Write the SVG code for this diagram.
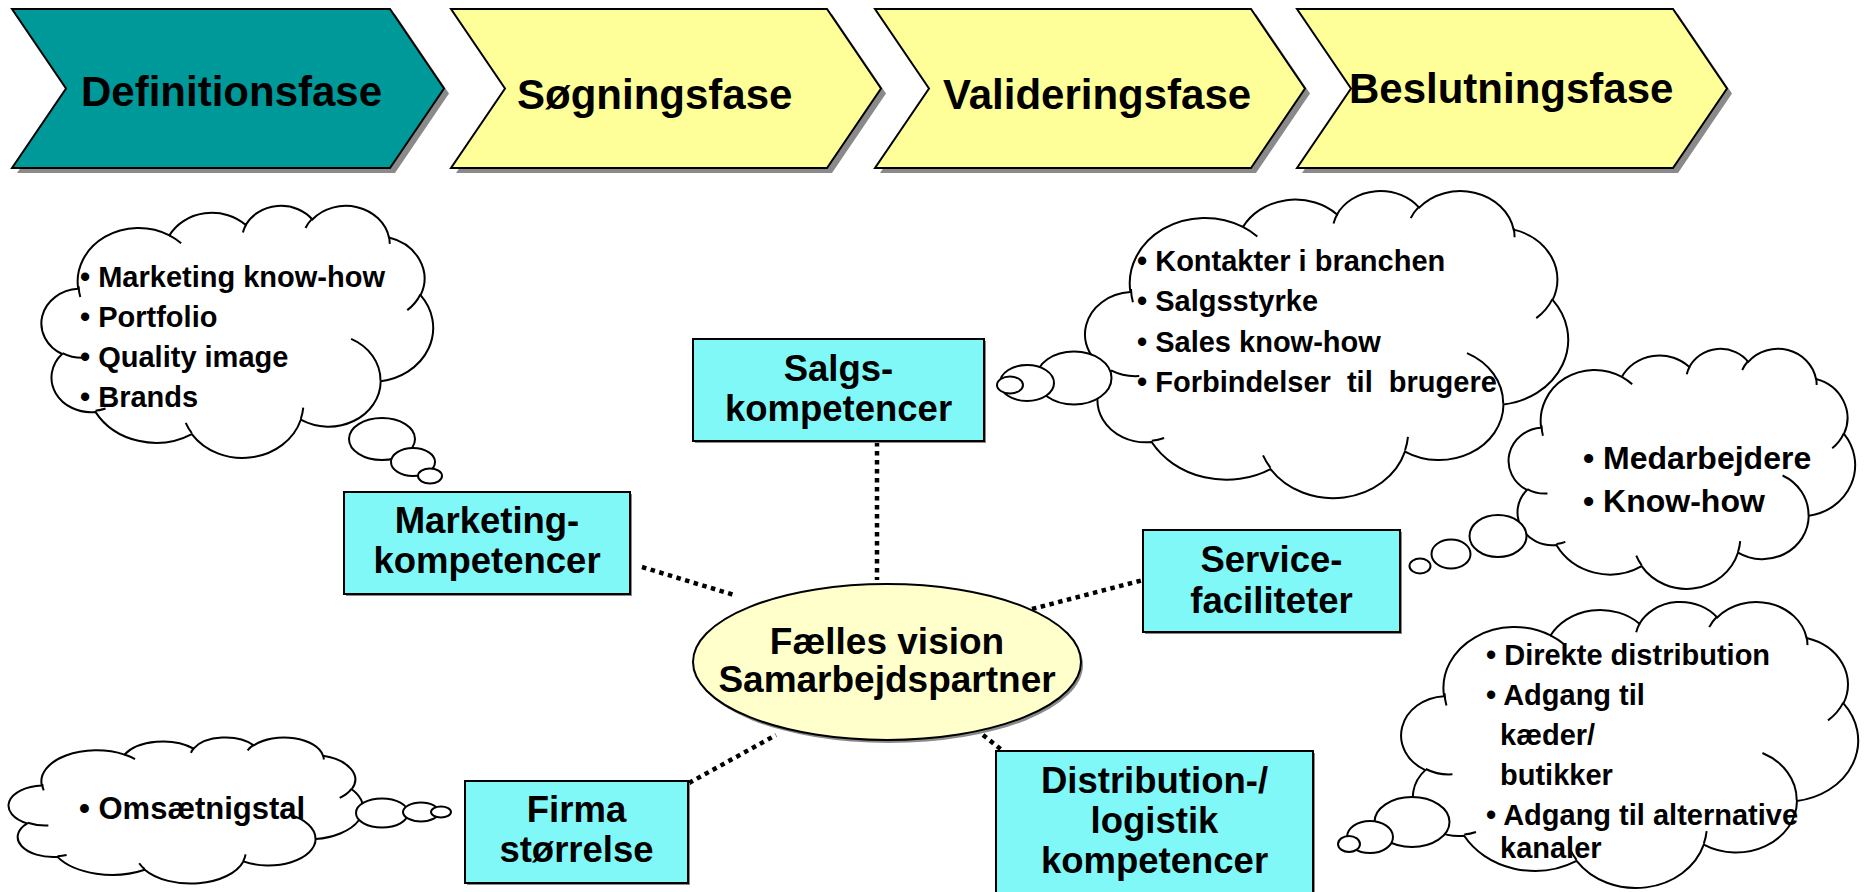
<svg xmlns="http://www.w3.org/2000/svg" xmlns:xlink="http://www.w3.org/1999/xlink" width="1871" height="892" viewBox="0 0 1871 892">
<style>
text { font-family: "Liberation Sans", Arial, sans-serif; font-weight: bold; fill: #000; }
.phase { font-size: 42px; }
.chev { stroke: #000; stroke-width: 2; stroke-linejoin: miter; }
.chevshadow { fill: #8a8a8a; }
.teal { fill: #009999; }
.yel { fill: #FFFF99; }
.box { fill: #80F8F8; stroke: #000; stroke-width: 2; }
.boxshadow { fill: #8a8a8a; }
.btxt { font-size: 36.5px; text-anchor: middle; }
.etxt { font-size: 37px; text-anchor: middle; }
.cloud { fill: #fff; stroke: #000; stroke-width: 2; vector-effect: non-scaling-stroke; }
.carc { fill: none; stroke: #000; stroke-width: 2; vector-effect: non-scaling-stroke; }
.bub { fill: #fff; stroke: #000; stroke-width: 2; }
.ctxt { font-size: 29px; }
.ctxt32 { font-size: 32px; }
.ctxt31 { font-size: 31px; }
.dot { stroke: #000; stroke-width: 4.5; stroke-dasharray: 4.5 4.5; fill: none; }
</style>
<defs>
<path id="cloudShape" class="cloud" d="M39,143.7 A67.53,91.9 0 0 1 140.06,52.02 A53.33,72.67 0 0 1 224.57,34.34 A43.65,59.45 0 0 1 298.34,24.83 A48.57,65.95 0 0 1 383.2,55.78 A53.33,72.73 0 0 1 418.2,154.62 A67.75,92.2 0 0 1 374.05,302.02 A57.85,78.67 0 0 1 285.57,368.13 A67.52,92.15 0 0 1 164.82,392.66 A77.2,105.43 0 0 1 58.07,354.68 A43.6,59.18 0 0 1 21.16,255.47 A43.45,59.45 0 0 1 39,143.7 Z"/>
<path id="cloudArcs" class="carc" d="M46.93,261.77 A43.45,59.45 0 0 1 21.59,253.79 M69.28,348.99 A43.6,59.18 0 0 1 58.19,352.81 M164.78,390.9 A67.52,92.15 0 0 1 158.1,373.49 M288.27,347.51 A67.52,92.15 0 0 1 285.61,366.6 M341.29,229.54 A57.85,78.67 0 0 1 373.8,300.9 M417.98,153.54 A53.33,72.73 0 0 1 403.5,180.3 M383.24,54.26 A48.57,65.95 0 0 1 384,66.65 M290.78,39.52 A48.57,65.95 0 0 1 298.2,23.4 M221.41,47.2 A43.65,59.45 0 0 1 225,33.31 M140,51.92 A67.53,91.9 0 0 1 153,65.41 M41.27,157.89 A67.53,91.9 0 0 1 39.47,139.38"/>
</defs>

<!-- Phase chevrons -->
<g id="phase-definition">
<polygon class="chevshadow" points="17,14 395,14 449,93.5 395,173 17,173 71,93.5"/>
<polygon class="chev teal" points="12,9 390,9 444,88.5 390,168 12,168 66,88.5"/>
<text class="phase" x="81" y="106">Definitionsfase</text>
</g>
<g id="phase-soegning">
<polygon class="chevshadow" points="456,14 832,14 886,93.5 832,173 456,173 510,93.5"/>
<polygon class="chev yel" points="451,9 827,9 881,88.5 827,168 451,168 505,88.5"/>
<text class="phase" x="517" y="109">Søgningsfase</text>
</g>
<g id="phase-validering">
<polygon class="chevshadow" points="880,14 1256,14 1310,93.5 1256,173 880,173 934,93.5"/>
<polygon class="chev yel" points="875,9 1251,9 1305,88.5 1251,168 875,168 929,88.5"/>
<text class="phase" x="943" y="109">Valideringsfase</text>
</g>
<g id="phase-beslutning">
<polygon class="chevshadow" points="1302,14 1678,14 1732,93.5 1678,173 1302,173 1356,93.5"/>
<polygon class="chev yel" points="1297,9 1673,9 1727,88.5 1673,168 1297,168 1351,88.5"/>
<text class="phase" x="1349" y="103">Beslutningsfase</text>
</g>

<!-- Connectors -->
<g id="connectors">
<line class="dot" x1="877" y1="442" x2="877" y2="580"/>
<line class="dot" x1="642" y1="567" x2="734" y2="595"/>
<line class="dot" x1="1032" y1="609" x2="1143" y2="580"/>
<line class="dot" x1="689" y1="783" x2="776" y2="735"/>
<line class="dot" x1="983" y1="735" x2="1003" y2="751"/>
</g>

<!-- Center ellipse -->
<g id="center">
<ellipse cx="889" cy="665" rx="194" ry="78" fill="#8a8a8a"/>
<ellipse cx="887" cy="662" rx="194" ry="78" fill="#FFFFCC" stroke="#000" stroke-width="2"/>
<text class="etxt" x="887" y="654">Fælles vision</text>
<text class="etxt" x="887" y="692">Samarbejdspartner</text>
</g>

<!-- Boxes -->
<g id="box-salg">
<rect class="boxshadow" x="695" y="341" width="291" height="102"/>
<rect class="box" x="693" y="339" width="291" height="102"/>
<text class="btxt" x="838.5" y="381">Salgs-</text>
<text class="btxt" x="838.5" y="421">kompetencer</text>
</g>
<g id="box-marketing">
<rect class="boxshadow" x="346" y="494" width="286" height="102"/>
<rect class="box" x="344" y="492" width="286" height="102"/>
<text class="btxt" x="487" y="533">Marketing-</text>
<text class="btxt" x="487" y="573">kompetencer</text>
</g>
<g id="box-service">
<rect class="boxshadow" x="1145" y="532" width="257" height="102"/>
<rect class="box" x="1143" y="530" width="257" height="102"/>
<text class="btxt" x="1271.5" y="572">Service-</text>
<text class="btxt" x="1271.5" y="613">faciliteter</text>
</g>
<g id="box-firma">
<rect class="boxshadow" x="467" y="783" width="223" height="102"/>
<rect class="box" x="465" y="781" width="223" height="102"/>
<text class="btxt" x="576.5" y="822">Firma</text>
<text class="btxt" x="576.5" y="862">størrelse</text>
</g>
<g id="box-distribution">
<rect class="boxshadow" x="998" y="753" width="317" height="150"/>
<rect class="box" x="996" y="751" width="317" height="150"/>
<text class="btxt" x="1154.5" y="793">Distribution-/</text>
<text class="btxt" x="1154.5" y="833">logistik</text>
<text class="btxt" x="1154.5" y="873">kompetencer</text>
</g>

<!-- Clouds -->
<g id="cloud-marketing">
<use xlink:href="#cloudShape" transform="translate(43,205) scale(0.9028,0.5833)"/>
<use xlink:href="#cloudArcs" transform="translate(43,205) scale(0.9028,0.5833)"/>
<ellipse class="bub" cx="382" cy="439" rx="33" ry="21"/>
<ellipse class="bub" cx="413" cy="462" rx="22" ry="14"/>
<ellipse class="bub" cx="430" cy="476" rx="12" ry="7.5"/>
<text class="ctxt" x="80" y="287">• Marketing know-how</text>
<text class="ctxt" x="80" y="327">• Portfolio</text>
<text class="ctxt" x="80" y="367">• Quality image</text>
<text class="ctxt" x="80" y="407">• Brands</text>
</g>
<g id="cloud-salg">
<use xlink:href="#cloudShape" transform="translate(1087,190) scale(1.1134,0.7106)"/>
<use xlink:href="#cloudArcs" transform="translate(1087,190) scale(1.1134,0.7106)"/>
<ellipse class="bub" cx="1074" cy="378" rx="37.5" ry="26.5"/>
<ellipse class="bub" cx="1027" cy="383" rx="27" ry="18"/>
<ellipse class="bub" cx="1010" cy="385" rx="13" ry="8.5"/>
<text class="ctxt" x="1137" y="271">• Kontakter i branchen</text>
<text class="ctxt" x="1137" y="311">• Salgsstyrke</text>
<text class="ctxt" x="1137" y="352">• Sales know-how</text>
<text class="ctxt" x="1137" y="392" xml:space="preserve">• Forbindelser  til  brugere</text>
</g>
<g id="cloud-service">
<use xlink:href="#cloudShape" transform="translate(1510,348) scale(0.7986,0.5556)"/>
<use xlink:href="#cloudArcs" transform="translate(1510,348) scale(0.7986,0.5556)"/>
<ellipse class="bub" cx="1498" cy="536" rx="28.5" ry="21"/>
<ellipse class="bub" cx="1451" cy="554" rx="19.5" ry="14.5"/>
<ellipse class="bub" cx="1420" cy="566" rx="10.5" ry="7.5"/>
<text class="ctxt32" x="1583" y="469">• Medarbejdere</text>
<text class="ctxt32" x="1583" y="512">• Know-how</text>
</g>
<g id="cloud-distribution">
<use xlink:href="#cloudShape" transform="translate(1403,601) scale(1.0532,0.662)"/>
<use xlink:href="#cloudArcs" transform="translate(1403,601) scale(1.0532,0.662)"/>
<ellipse class="bub" cx="1412" cy="822" rx="37.5" ry="25"/>
<ellipse class="bub" cx="1370" cy="837" rx="23" ry="16"/>
<ellipse class="bub" cx="1349" cy="844" rx="11" ry="8"/>
<text class="ctxt" x="1486" y="665">• Direkte distribution</text>
<text class="ctxt" x="1486" y="705">• Adgang til</text>
<text class="ctxt" x="1500" y="745">kæder/</text>
<text class="ctxt" x="1500" y="785">butikker</text>
<text class="ctxt" x="1486" y="825">• Adgang til alternative</text>
<text class="ctxt" x="1500" y="858">kanaler</text>
</g>
<g id="cloud-firma">
<use xlink:href="#cloudShape" transform="translate(10,737) scale(0.8171,0.338)"/>
<use xlink:href="#cloudArcs" transform="translate(10,737) scale(0.8171,0.338)"/>
<ellipse class="bub" cx="382" cy="813" rx="26" ry="14.5"/>
<ellipse class="bub" cx="421" cy="812" rx="18" ry="9.5"/>
<ellipse class="bub" cx="441" cy="812" rx="10" ry="5.5"/>
<text class="ctxt31" x="79" y="819">• Omsætnigstal</text>
</g>
</svg>
